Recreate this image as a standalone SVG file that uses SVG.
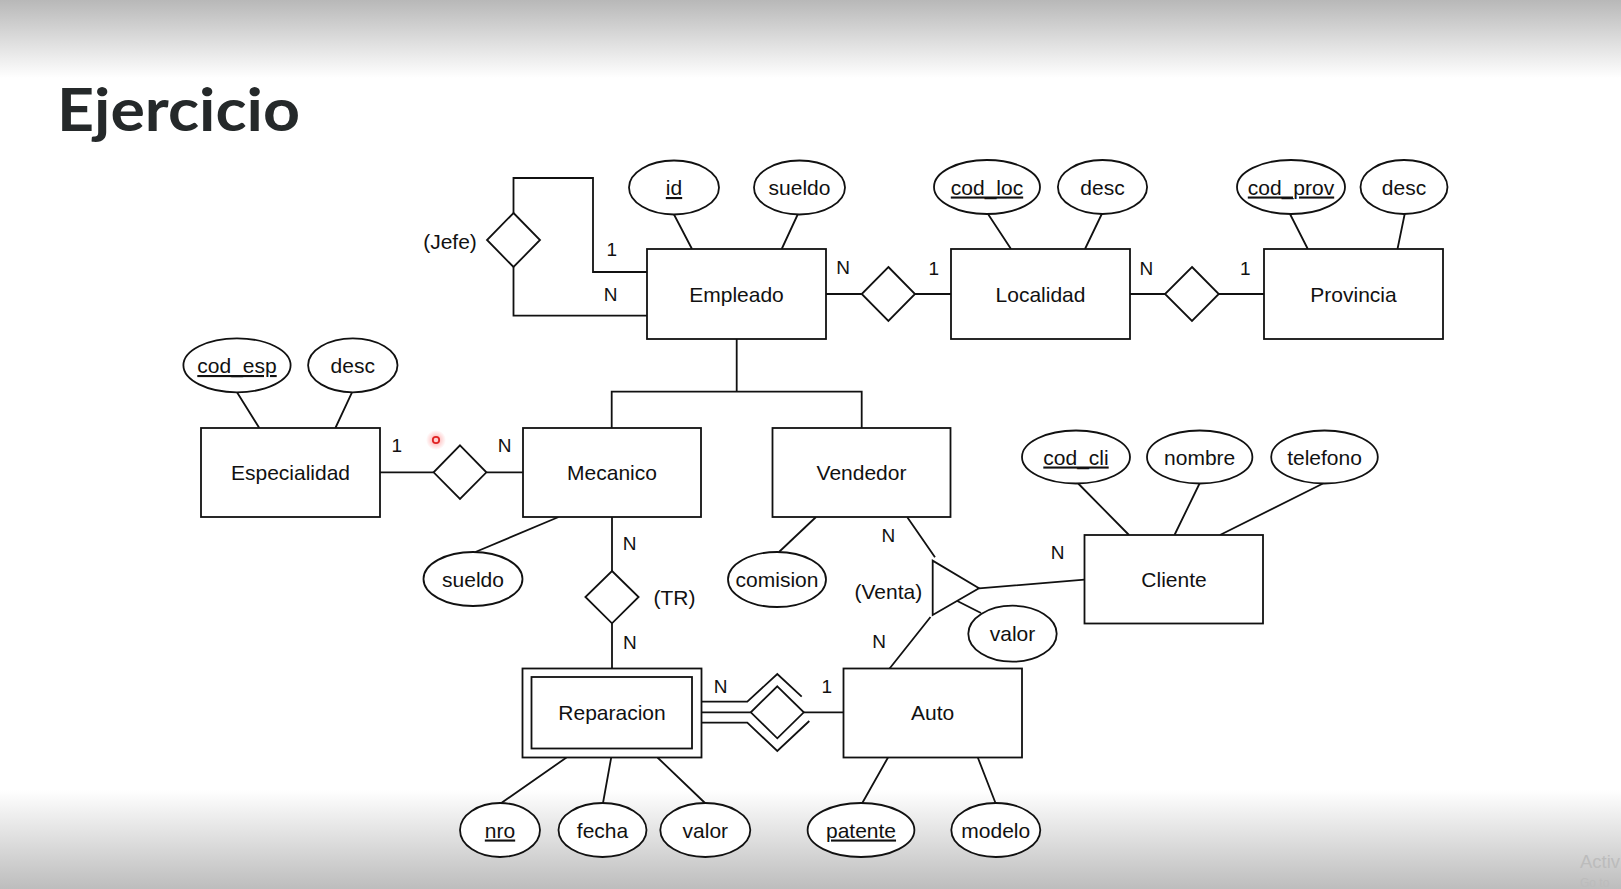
<svg xmlns="http://www.w3.org/2000/svg" width="1621" height="889" viewBox="0 0 1621 889">
<defs>
<linearGradient id="gtop" x1="0" y1="0" x2="0" y2="1">
<stop offset="0" stop-color="#b8b8b8"/><stop offset="1" stop-color="#ffffff"/>
</linearGradient>
<linearGradient id="gbot" x1="0" y1="0" x2="0" y2="1">
<stop offset="0" stop-color="#ffffff"/><stop offset="1" stop-color="#bdbdbd"/>
</linearGradient>
<radialGradient id="glow"><stop offset="0" stop-color="#ff8080" stop-opacity="0.7"/><stop offset="1" stop-color="#ff8080" stop-opacity="0"/></radialGradient>
</defs>
<style>
.s{fill:#fff;stroke:#111;stroke-width:1.8}
.l{fill:none;stroke:#111;stroke-width:1.8}
.t{font-family:"Liberation Sans",Arial,sans-serif;font-size:21px;fill:#111;text-anchor:middle}
.c{font-family:"Liberation Sans",Arial,sans-serif;font-size:19px;fill:#111;text-anchor:middle}
.u{text-decoration:underline}
</style>
<rect x="0" y="0" width="1621" height="889" fill="#fff"/>
<rect x="0" y="0" width="1621" height="78" fill="url(#gtop)"/>
<rect x="0" y="790" width="1621" height="99" fill="url(#gbot)"/>
<text x="57" y="131" font-family="Lato,'Open Sans',sans-serif" font-weight="700" font-size="60" fill="#25292a" textLength="243" lengthAdjust="spacingAndGlyphs">Ejercicio</text>

<g id="connectors" class="l">
<path d="M513.5,213 V178 H593 V272 H647"/>
<path d="M513.5,267 V315.7 H647"/>
<path d="M826,294 H861.7 M915,294 H951"/>
<path d="M1130,294 H1165 M1218.8,294 H1264"/>
<path d="M380,472.3 H433.6 M486.4,472.3 H523"/>
<path d="M736.7,339 V391.7 M611.7,428 V391.7 H861.7 V428"/>
<path d="M612,517 V571 M612,623.3 V668.5"/>
<path d="M701.5,701.7 H747.3 L777.3,674 L801.7,696.7"/>
<path d="M701.5,712.3 H750.8"/>
<path d="M701.5,722.7 H747.3 L777.3,751 L809.3,721"/>
<path d="M803.8,712.3 H843.5"/>
<path d="M907.3,517.3 L935,557.3 M979,588.3 L1084.5,579.7 M957.3,601 L981,613 M930.5,617 L889.6,668.5"/>
<path d="M674,214.5 L692,249 M797.7,214.5 L781.7,249"/>
<path d="M988,214 L1011,249 M1101.8,214 L1085,249"/>
<path d="M1290,214 L1307.8,249 M1404.7,214 L1397.5,249"/>
<path d="M237,392.3 L259.3,428 M352,392.3 L335.4,428"/>
<path d="M475.4,552 L558.6,517"/>
<path d="M779,552 L816,517"/>
<path d="M1077.7,483 L1129,535 M1199.8,483 L1174.5,535 M1324,483 L1220,535"/>
<path d="M501.3,803 L566.5,757.5 M603,803 L611.2,757.5 M705,803 L657.5,757.5"/>
<path d="M862.3,803 L888,757.5 M995.5,803 L977.8,757.5"/>
</g>

<g id="Empleado"><rect class="s" x="647" y="249" width="179" height="90"/><text class="t" x="736.5" y="302">Empleado</text></g>
<g id="Localidad"><rect class="s" x="951" y="249" width="179" height="90"/><text class="t" x="1040.5" y="302">Localidad</text></g>
<g id="Provincia"><rect class="s" x="1264" y="249" width="179" height="90"/><text class="t" x="1353.5" y="302">Provincia</text></g>
<g id="Especialidad"><rect class="s" x="201" y="428" width="179" height="89"/><text class="t" x="290.5" y="480">Especialidad</text></g>
<g id="Mecanico"><rect class="s" x="523" y="428" width="178" height="89"/><text class="t" x="612" y="480">Mecanico</text></g>
<g id="Vendedor"><rect class="s" x="772.5" y="428" width="178" height="89"/><text class="t" x="861.5" y="480">Vendedor</text></g>
<g id="Cliente"><rect class="s" x="1084.5" y="535" width="178.5" height="88.5"/><text class="t" x="1174" y="587">Cliente</text></g>
<g id="Reparacion"><rect class="s" x="522.5" y="668.5" width="179" height="89"/><rect class="s" x="531.5" y="677" width="160.5" height="71.5"/><text class="t" x="612" y="720">Reparacion</text></g>
<g id="Auto"><rect class="s" x="843.5" y="668.5" width="178.5" height="89"/><text class="t" x="932.7" y="720">Auto</text></g>

<g id="rel-Jefe"><polygon class="s" points="513.5,213 540,240 513.5,267 487,240"/><text class="t" x="450" y="249">(Jefe)</text></g>
<g id="rel-EmpLoc"><polygon class="s" points="888.4,267 915,294 888.4,321 861.7,294"/></g>
<g id="rel-LocProv"><polygon class="s" points="1192,267 1218.8,294 1192,321 1165,294"/></g>
<g id="rel-EspMec"><polygon class="s" points="460,445.3 486.4,472.3 460,499 433.6,472.3"/></g>
<g id="rel-TR"><polygon class="s" points="612,571 638.6,597 612,623.3 585.4,597"/><text class="t" x="674.5" y="605">(TR)</text></g>
<g id="rel-RepAuto"><polygon class="s" points="777.3,686.3 803.8,712.3 777.3,738.3 750.8,712.3"/></g>
<g id="rel-Venta"><polygon class="s" points="932.7,560.7 932.7,615 979,588.3"/><text class="t" x="888.4" y="599">(Venta)</text></g>

<g id="attr-id"><ellipse class="s" cx="674" cy="187.5" rx="45" ry="27"/><text class="t u" x="674" y="195">id</text></g>
<g id="attr-emp-sueldo"><ellipse class="s" cx="799.5" cy="187.5" rx="45.5" ry="27"/><text class="t" x="799.5" y="195">sueldo</text></g>
<g id="attr-cod_loc"><ellipse class="s" cx="987" cy="187" rx="53" ry="27"/><text class="t u" x="987" y="194.5">cod_loc</text></g>
<g id="attr-loc-desc"><ellipse class="s" cx="1102.5" cy="187" rx="44.6" ry="27"/><text class="t" x="1102.5" y="194.5">desc</text></g>
<g id="attr-cod_prov"><ellipse class="s" cx="1291" cy="187" rx="54" ry="27"/><text class="t u" x="1291" y="194.5">cod_prov</text></g>
<g id="attr-prov-desc"><ellipse class="s" cx="1404" cy="187" rx="43.5" ry="27"/><text class="t" x="1404" y="194.5">desc</text></g>
<g id="attr-cod_esp"><ellipse class="s" cx="237" cy="365.3" rx="53.6" ry="27"/><text class="t u" x="237" y="373">cod_esp</text></g>
<g id="attr-esp-desc"><ellipse class="s" cx="352.8" cy="365.3" rx="44.7" ry="27"/><text class="t" x="352.8" y="373">desc</text></g>
<g id="attr-mec-sueldo"><ellipse class="s" cx="473" cy="579" rx="49.5" ry="27"/><text class="t" x="473" y="586.5">sueldo</text></g>
<g id="attr-comision"><ellipse class="s" cx="777" cy="579.5" rx="49" ry="27.5"/><text class="t" x="777" y="587">comision</text></g>
<g id="attr-venta-valor"><ellipse class="s" cx="1012.5" cy="633.7" rx="44.2" ry="28"/><text class="t" x="1012.5" y="641">valor</text></g>
<g id="attr-cod_cli"><ellipse class="s" cx="1076" cy="457" rx="54" ry="26.5"/><text class="t u" x="1076" y="464.5">cod_cli</text></g>
<g id="attr-nombre"><ellipse class="s" cx="1199.7" cy="457" rx="52.7" ry="26.5"/><text class="t" x="1199.7" y="464.5">nombre</text></g>
<g id="attr-telefono"><ellipse class="s" cx="1324.5" cy="457" rx="53.3" ry="26.5"/><text class="t" x="1324.5" y="464.5">telefono</text></g>
<g id="attr-nro"><ellipse class="s" cx="500" cy="830" rx="40" ry="27"/><text class="t u" x="500" y="837.5">nro</text></g>
<g id="attr-fecha"><ellipse class="s" cx="602.5" cy="830" rx="44" ry="27"/><text class="t" x="602.5" y="837.5">fecha</text></g>
<g id="attr-rep-valor"><ellipse class="s" cx="705.3" cy="830" rx="45" ry="27"/><text class="t" x="705.3" y="837.5">valor</text></g>
<g id="attr-patente"><ellipse class="s" cx="861" cy="830" rx="53.4" ry="27"/><text class="t u" x="861" y="837.5">patente</text></g>
<g id="attr-modelo"><ellipse class="s" cx="995.8" cy="830" rx="44.5" ry="27"/><text class="t" x="995.8" y="837.5">modelo</text></g>

<g id="cardinalities">
<text class="c" x="611.7" y="256">1</text>
<text class="c" x="610.7" y="301">N</text>
<text class="c" x="843" y="274">N</text>
<text class="c" x="933.7" y="275">1</text>
<text class="c" x="1146.4" y="275">N</text>
<text class="c" x="1245.3" y="275">1</text>
<text class="c" x="396.8" y="452">1</text>
<text class="c" x="504.6" y="452">N</text>
<text class="c" x="629.6" y="550">N</text>
<text class="c" x="629.8" y="649">N</text>
<text class="c" x="720.7" y="693">N</text>
<text class="c" x="826.7" y="693">1</text>
<text class="c" x="888.3" y="542">N</text>
<text class="c" x="1057.5" y="559">N</text>
<text class="c" x="879" y="648">N</text>
</g>

<g id="cursor"><circle cx="436" cy="440" r="10" fill="url(#glow)"/><circle cx="436" cy="440" r="3.2" fill="#ffd0d0" stroke="#e02424" stroke-width="1.8"/></g>
<g id="watermark" font-family="'Liberation Sans',sans-serif" fill="#bcbcbc">
<text x="1580" y="868" font-size="18.5">Activ</text>
<text x="1580" y="887" font-size="12">Go to</text>
</g>
</svg>
